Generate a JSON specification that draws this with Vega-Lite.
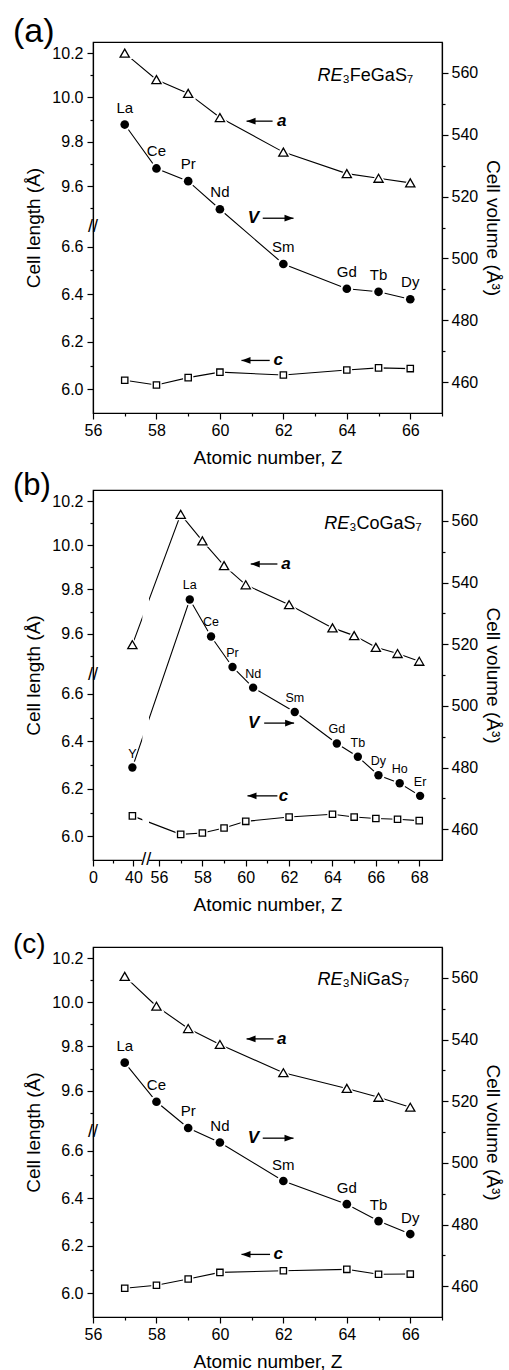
{
  "$schema": "https://vega.github.io/schema/vega-lite/v6.json",
  "padding": {"left": 12, "top": 14, "right": 2, "bottom": 0},
  "background": "white",
  "config": {
    "font": "Liberation Sans",
    "view": {"stroke": "black", "strokeWidth": 1.2},
    "axis": {"domainColor": "black", "domainWidth": 1.2, "tickColor": "black", "tickWidth": 1.2, "labelColor": "black", "titleColor": "black", "labelFont": "Liberation Sans", "titleFont": "Liberation Sans", "labelFontSize": 16, "titleFontSize": 19, "titleFontWeight": "normal", "grid": false, "labelOverlap": false, "labelFlush": false, "tickCount": 100},
    "text": {"font": "Liberation Sans", "color": "black"}
  },
  "datasets": {
    "lenA": [
      {"s": "a", "Z": 57, "v": 10.20}, {"s": "a", "Z": 58, "v": 10.08}, {"s": "a", "Z": 59, "v": 10.018}, {"s": "a", "Z": 60, "v": 9.909}, {"s": "a", "Z": 62, "v": 9.753}, {"s": "a", "Z": 64, "v": 9.656}, {"s": "a", "Z": 65, "v": 9.635}, {"s": "a", "Z": 66, "v": 9.614},
      {"s": "c", "Z": 57, "v": 6.038}, {"s": "c", "Z": 58, "v": 6.018}, {"s": "c", "Z": 59, "v": 6.049}, {"s": "c", "Z": 60, "v": 6.072}, {"s": "c", "Z": 62, "v": 6.060}, {"s": "c", "Z": 64, "v": 6.081}, {"s": "c", "Z": 65, "v": 6.090}, {"s": "c", "Z": 66, "v": 6.087}
    ],
    "volA": [
      {"el": "La", "Z": 57, "v": 543.3}, {"el": "Ce", "Z": 58, "v": 529.1}, {"el": "Pr", "Z": 59, "v": 525.0}, {"el": "Nd", "Z": 60, "v": 515.9}, {"el": "Sm", "Z": 62, "v": 498.2}, {"el": "Gd", "Z": 64, "v": 490.2}, {"el": "Tb", "Z": 65, "v": 489.2}, {"el": "Dy", "Z": 66, "v": 486.8}
    ],
    "annA": [
      {"lab": "a", "tip": 60.84, "tail": 61.66, "tx": 61.95, "v": 544.4, "dir": "L"},
      {"lab": "V", "tip": 62.32, "tail": 61.35, "tx": 61.06, "v": 513.0, "dir": "R"},
      {"lab": "c", "tip": 60.68, "tail": 61.57, "tx": 61.84, "v": 467.0, "dir": "L"}
    ],
    "fmA": [{"x0": 63.865, "v": 557.4, "re": "RE", "rest": "₃FeGaS₇"}],
    "brA": [{"bx": 56, "by": 8}],
    "lenB": [
      {"s": "a", "Z": 39, "v": 9.55}, {"s": "a", "Z": 57, "v": 10.14}, {"s": "a", "Z": 58, "v": 10.02}, {"s": "a", "Z": 59, "v": 9.908}, {"s": "a", "Z": 60, "v": 9.821}, {"s": "a", "Z": 62, "v": 9.731}, {"s": "a", "Z": 64, "v": 9.626}, {"s": "a", "Z": 65, "v": 9.591}, {"s": "a", "Z": 66, "v": 9.538}, {"s": "a", "Z": 67, "v": 9.51}, {"s": "a", "Z": 68, "v": 9.475},
      {"s": "c", "Z": 39, "v": 6.086}, {"s": "c", "Z": 57, "v": 6.008}, {"s": "c", "Z": 58, "v": 6.014}, {"s": "c", "Z": 59, "v": 6.035}, {"s": "c", "Z": 60, "v": 6.063}, {"s": "c", "Z": 62, "v": 6.081}, {"s": "c", "Z": 64, "v": 6.093}, {"s": "c", "Z": 65, "v": 6.081}, {"s": "c", "Z": 66, "v": 6.075}, {"s": "c", "Z": 67, "v": 6.072}, {"s": "c", "Z": 68, "v": 6.066}
    ],
    "volB": [
      {"el": "Y", "Z": 39, "v": 480.0}, {"el": "La", "Z": 57.42, "v": 534.5}, {"el": "Ce", "Z": 58.40, "v": 522.5}, {"el": "Pr", "Z": 59.39, "v": 512.6}, {"el": "Nd", "Z": 60.34, "v": 505.9}, {"el": "Sm", "Z": 62.26, "v": 498.0}, {"el": "Gd", "Z": 64.2, "v": 487.8}, {"el": "Tb", "Z": 65.17, "v": 483.5}, {"el": "Dy", "Z": 66.12, "v": 477.5}, {"el": "Ho", "Z": 67.1, "v": 474.9}, {"el": "Er", "Z": 68.04, "v": 470.8}
    ],
    "annB": [
      {"lab": "a", "tip": 60.23, "tail": 61.46, "tx": 61.85, "v": 546.0, "dir": "L"},
      {"lab": "V", "tip": 62.23, "tail": 60.85, "tx": 60.37, "v": 494.4, "dir": "R"},
      {"lab": "c", "tip": 60.08, "tail": 61.46, "tx": 61.74, "v": 470.8, "dir": "L"}
    ],
    "fmB": [{"x0": 64.77, "v": 557.4, "re": "RE", "rest": "₃CoGaS₇"}],
    "brB": [{"bx": 0, "by": 8}, {"bx": 48, "by": 5.9}],
    "gapB": [{"x1": 45.6, "x2": 49.75, "y1": 5.88, "y2": 10.2}],
    "lenC": [
      {"s": "a", "Z": 57, "v": 10.117}, {"s": "a", "Z": 58, "v": 9.982}, {"s": "a", "Z": 59, "v": 9.881}, {"s": "a", "Z": 60, "v": 9.809}, {"s": "a", "Z": 62, "v": 9.681}, {"s": "a", "Z": 64, "v": 9.610}, {"s": "a", "Z": 65, "v": 9.570}, {"s": "a", "Z": 66, "v": 9.525},
      {"s": "c", "Z": 57, "v": 6.021}, {"s": "c", "Z": 58, "v": 6.034}, {"s": "c", "Z": 59, "v": 6.060}, {"s": "c", "Z": 60, "v": 6.088}, {"s": "c", "Z": 62, "v": 6.095}, {"s": "c", "Z": 64, "v": 6.101}, {"s": "c", "Z": 65, "v": 6.080}, {"s": "c", "Z": 66, "v": 6.081}
    ],
    "volC": [
      {"el": "La", "Z": 57, "v": 532.5}, {"el": "Ce", "Z": 58, "v": 519.8}, {"el": "Pr", "Z": 59, "v": 511.3}, {"el": "Nd", "Z": 60, "v": 506.6}, {"el": "Sm", "Z": 62, "v": 494.1}, {"el": "Gd", "Z": 64, "v": 486.6}, {"el": "Tb", "Z": 65, "v": 481.1}, {"el": "Dy", "Z": 66, "v": 476.9}
    ],
    "annC": [
      {"lab": "a", "tip": 60.84, "tail": 61.69, "tx": 61.95, "v": 540.2, "dir": "L"},
      {"lab": "V", "tip": 62.32, "tail": 61.35, "tx": 61.06, "v": 508.0, "dir": "R"},
      {"lab": "c", "tip": 60.68, "tail": 61.58, "tx": 61.84, "v": 470.3, "dir": "L"}
    ],
    "fmC": [{"x0": 63.865, "v": 557.6, "re": "RE", "rest": "₃NiGaS₇"}],
    "brC": [{"bx": 56, "by": 8}]
  },
  "spacing": 15,
  "vconcat": [
    {
      "spacing": 1,
      "vconcat": [
        {
          "width": 349, "height": 371,
          "title": {"text": "(a)", "anchor": "start", "frame": "group", "dx": -80, "offset": -42, "fontSize": 34, "fontWeight": "normal", "baseline": "bottom", "font": "Liberation Sans", "color": "black"},
          "resolve": {"scale": {"y": "independent", "shape": "independent"}},
          "layer": [
            {"data": {"name": "lenA"}, "mark": {"type": "line", "color": "black", "strokeWidth": 1.1},
             "encoding": {
               "x": {"field": "Z", "type": "quantitative", "scale": {"domain": [56, 67], "nice": false, "zero": false}, "title": "Atomic number, Z",
                     "axis": {"values": [56, 57, 58, 59, 60, 61, 62, 63, 64, 65, 66, 67], "tickCount": 100, "format": "d", "labelExpr": "datum.value % 2 == 0 ? datum.label : ''", "tickSize": {"condition": {"test": "datum.value % 2 == 1", "value": 3}, "value": 6}, "labelPadding": 3, "titlePadding": 10}},
               "y": {"field": "v", "type": "quantitative", "scale": {"domain": [5.9, 6.68, 9.415, 10.25], "range": [371, 185.75, 185, 0], "nice": false, "zero": false},
                     "axis": {"orient": "left", "title": "Cell length (Å)", "values": [6.0, 6.1, 6.2, 6.3, 6.4, 6.5, 6.6, 9.5, 9.6, 9.7, 9.8, 9.9, 10.0, 10.1, 10.2], "tickCount": 100, "format": ".1f", "labelExpr": "round(datum.value*10) % 2 == 0 ? datum.label : ''", "tickSize": {"condition": {"test": "round(datum.value*10) % 2 == 1", "value": 3}, "value": 6}, "labelPadding": 4, "titlePadding": 8}},
               "detail": {"field": "s", "type": "nominal"}}},
            {"data": {"name": "volA"}, "mark": {"type": "line", "color": "black", "strokeWidth": 1.1},
             "encoding": {
               "x": {"field": "Z", "type": "quantitative", "scale": {"domain": [56, 67], "nice": false, "zero": false}, "title": "Atomic number, Z"},
               "y": {"field": "v", "type": "quantitative", "scale": {"domain": [450, 570], "nice": false, "zero": false},
                     "axis": {"orient": "right", "title": "Cell volume (Å³)", "values": [460, 470, 480, 490, 500, 510, 520, 530, 540, 550, 560], "tickCount": 100, "format": "d", "labelExpr": "datum.value % 20 == 0 ? datum.label : ''", "tickSize": {"condition": {"test": "datum.value % 20 != 0", "value": 3}, "value": 6}, "labelPadding": 3, "titlePadding": 5}}}},
            {"data": {"name": "lenA"}, "mark": {"type": "point", "filled": true, "fill": "white", "stroke": "white", "strokeWidth": 4, "opacity": 1},
             "encoding": {
               "x": {"field": "Z", "type": "quantitative", "scale": {"domain": [56, 67], "nice": false, "zero": false}, "title": "Atomic number, Z"},
               "y": {"field": "v", "type": "quantitative", "scale": {"domain": [5.9, 6.68, 9.415, 10.25], "range": [371, 185.75, 185, 0], "nice": false, "zero": false}, "axis": null},
               "shape": {"field": "s", "type": "nominal", "scale": {"domain": ["a", "c"], "range": ["triangle-up", "square"]}, "legend": null},
               "size": {"condition": {"test": "datum.s == 'a'", "value": 85}, "value": 40}}},
            {"data": {"name": "lenA"}, "mark": {"type": "point", "filled": true, "fill": "white", "stroke": "black", "strokeWidth": 1.3, "opacity": 1},
             "encoding": {
               "x": {"field": "Z", "type": "quantitative", "scale": {"domain": [56, 67], "nice": false, "zero": false}, "title": "Atomic number, Z"},
               "y": {"field": "v", "type": "quantitative", "scale": {"domain": [5.9, 6.68, 9.415, 10.25], "range": [371, 185.75, 185, 0], "nice": false, "zero": false}, "axis": null},
               "shape": {"field": "s", "type": "nominal", "scale": {"domain": ["a", "c"], "range": ["triangle-up", "square"]}, "legend": null},
               "size": {"condition": {"test": "datum.s == 'a'", "value": 85}, "value": 40}}},
            {"data": {"name": "volA"}, "mark": {"type": "point", "filled": true, "fill": "white", "stroke": "white", "strokeWidth": 4, "opacity": 1, "shape": "circle", "size": 75},
             "encoding": {
               "x": {"field": "Z", "type": "quantitative", "scale": {"domain": [56, 67], "nice": false, "zero": false}, "title": "Atomic number, Z"},
               "y": {"field": "v", "type": "quantitative", "scale": {"domain": [450, 570], "nice": false, "zero": false}, "axis": null}}},
            {"data": {"name": "volA"}, "mark": {"type": "point", "filled": true, "fill": "black", "strokeWidth": 0, "opacity": 1, "shape": "circle", "size": 75},
             "encoding": {
               "x": {"field": "Z", "type": "quantitative", "scale": {"domain": [56, 67], "nice": false, "zero": false}, "title": "Atomic number, Z"},
               "y": {"field": "v", "type": "quantitative", "scale": {"domain": [450, 570], "nice": false, "zero": false}, "axis": null}}},
            {"data": {"name": "volA"}, "mark": {"type": "text", "dy": -17, "fontSize": 15, "font": "Liberation Sans", "color": "black"},
             "encoding": {
               "x": {"field": "Z", "type": "quantitative", "scale": {"domain": [56, 67], "nice": false, "zero": false}, "title": "Atomic number, Z"},
               "y": {"field": "v", "type": "quantitative", "scale": {"domain": [450, 570], "nice": false, "zero": false}, "axis": null},
               "text": {"field": "el"}}},
            {"data": {"name": "annA"}, "mark": {"type": "rule", "color": "black", "strokeWidth": 1.3},
             "encoding": {
               "x": {"field": "tip", "type": "quantitative", "scale": {"domain": [56, 67], "nice": false, "zero": false}, "title": "Atomic number, Z"},
               "x2": {"field": "tail"},
               "y": {"field": "v", "type": "quantitative", "scale": {"domain": [450, 570], "nice": false, "zero": false}, "axis": null}}},
            {"data": {"name": "annA"}, "mark": {"type": "point", "filled": true, "color": "black", "strokeWidth": 0, "opacity": 1, "size": 81},
             "encoding": {
               "x": {"field": "tip", "type": "quantitative", "scale": {"domain": [56, 67], "nice": false, "zero": false}, "title": "Atomic number, Z"},
               "y": {"field": "v", "type": "quantitative", "scale": {"domain": [450, 570], "nice": false, "zero": false}, "axis": null},
               "shape": {"field": "dir", "type": "nominal", "scale": {"domain": ["L", "R"], "range": ["M0,0L2,-0.75L2,0.75Z", "M0,0L-2,-0.75L-2,0.75Z"]}, "legend": null}}},
            {"data": {"name": "annA"}, "mark": {"type": "text", "fontSize": 17, "fontStyle": "italic", "fontWeight": "bold", "font": "Liberation Sans", "color": "black", "baseline": "middle"},
             "encoding": {
               "x": {"field": "tx", "type": "quantitative", "scale": {"domain": [56, 67], "nice": false, "zero": false}, "title": "Atomic number, Z"},
               "y": {"field": "v", "type": "quantitative", "scale": {"domain": [450, 570], "nice": false, "zero": false}, "axis": null},
               "text": {"field": "lab"}}},
            {"data": {"name": "fmA"}, "mark": {"type": "text", "fontSize": 18, "fontStyle": "italic", "align": "right", "baseline": "alphabetic", "font": "Liberation Sans", "color": "black"},
             "encoding": {
               "x": {"field": "x0", "type": "quantitative", "scale": {"domain": [56, 67], "nice": false, "zero": false}, "title": "Atomic number, Z"},
               "y": {"field": "v", "type": "quantitative", "scale": {"domain": [450, 570], "nice": false, "zero": false}, "axis": null},
               "text": {"field": "re"}}},
            {"data": {"name": "fmA"}, "mark": {"type": "text", "fontSize": 18, "align": "left", "baseline": "alphabetic", "font": "Liberation Sans", "color": "black"},
             "encoding": {
               "x": {"field": "x0", "type": "quantitative", "scale": {"domain": [56, 67], "nice": false, "zero": false}, "title": "Atomic number, Z"},
               "y": {"field": "v", "type": "quantitative", "scale": {"domain": [450, 570], "nice": false, "zero": false}, "axis": null},
               "text": {"field": "rest"}}},
            {"data": {"name": "brA"}, "mark": {"type": "text", "text": "//", "fontSize": 18, "font": "Liberation Sans", "color": "black", "baseline": "middle"},
             "encoding": {
               "x": {"field": "bx", "type": "quantitative", "scale": {"domain": [56, 67], "nice": false, "zero": false}, "title": "Atomic number, Z"},
               "y": {"field": "by", "type": "quantitative", "scale": {"domain": [5.9, 6.68, 9.415, 10.25], "range": [371, 185.75, 185, 0], "nice": false, "zero": false}, "axis": null}}}
          ]
        },
        {
          "width": 349, "height": 370,
          "title": {"text": "(b)", "anchor": "start", "frame": "group", "dx": -80, "offset": -43, "fontSize": 31, "fontWeight": "normal", "baseline": "bottom", "font": "Liberation Sans", "color": "black"},
          "resolve": {"scale": {"y": "independent", "shape": "independent"}},
          "layer": [
            {"data": {"name": "lenB"}, "mark": {"type": "line", "color": "black", "strokeWidth": 1.1},
             "encoding": {
               "x": {"field": "Z", "type": "quantitative", "scale": {"domain": [0, 40, 56, 69.05], "range": [0, 40.4, 66, 349], "nice": false, "zero": false}, "title": "Atomic number, Z",
                     "axis": {"values": [0, 20, 40, 56, 57, 58, 59, 60, 61, 62, 63, 64, 65, 66, 67, 68], "tickCount": 100, "format": "d", "labelExpr": "(datum.value == 20 || datum.value % 2 == 1) ? '' : datum.label", "tickSize": {"condition": {"test": "datum.value == 20 || datum.value % 2 == 1", "value": 3}, "value": 6}, "labelPadding": 3, "titlePadding": 10}},
               "y": {"field": "v", "type": "quantitative", "scale": {"domain": [5.9, 6.68, 9.415, 10.25], "range": [370, 185, 184.5, 0], "nice": false, "zero": false},
                     "axis": {"orient": "left", "title": "Cell length (Å)", "values": [6.0, 6.1, 6.2, 6.3, 6.4, 6.5, 6.6, 9.5, 9.6, 9.7, 9.8, 9.9, 10.0, 10.1, 10.2], "tickCount": 100, "format": ".1f", "labelExpr": "round(datum.value*10) % 2 == 0 ? datum.label : ''", "tickSize": {"condition": {"test": "round(datum.value*10) % 2 == 1", "value": 3}, "value": 6}, "labelPadding": 4, "titlePadding": 8}},
               "detail": {"field": "s", "type": "nominal"}}},
            {"data": {"name": "volB"}, "mark": {"type": "line", "color": "black", "strokeWidth": 1.1},
             "encoding": {
               "x": {"field": "Z", "type": "quantitative", "scale": {"domain": [0, 40, 56, 69.05], "range": [0, 40.4, 66, 349], "nice": false, "zero": false}, "title": "Atomic number, Z"},
               "y": {"field": "v", "type": "quantitative", "scale": {"domain": [450, 570], "nice": false, "zero": false},
                     "axis": {"orient": "right", "title": "Cell volume (Å³)", "values": [460, 470, 480, 490, 500, 510, 520, 530, 540, 550, 560], "tickCount": 100, "format": "d", "labelExpr": "datum.value % 20 == 0 ? datum.label : ''", "tickSize": {"condition": {"test": "datum.value % 20 != 0", "value": 3}, "value": 6}, "labelPadding": 3, "titlePadding": 5}}}},
            {"data": {"name": "gapB"}, "mark": {"type": "rect", "color": "white", "opacity": 1},
             "encoding": {
               "x": {"field": "x1", "type": "quantitative", "scale": {"domain": [0, 40, 56, 69.05], "range": [0, 40.4, 66, 349], "nice": false, "zero": false}, "title": "Atomic number, Z"},
               "x2": {"field": "x2"},
               "y": {"field": "y1", "type": "quantitative", "scale": {"domain": [5.9, 6.68, 9.415, 10.25], "range": [370, 185, 184.5, 0], "nice": false, "zero": false}, "axis": null},
               "y2": {"field": "y2"}}},
            {"data": {"name": "lenB"}, "mark": {"type": "point", "filled": true, "fill": "white", "stroke": "white", "strokeWidth": 4, "opacity": 1},
             "encoding": {
               "x": {"field": "Z", "type": "quantitative", "scale": {"domain": [0, 40, 56, 69.05], "range": [0, 40.4, 66, 349], "nice": false, "zero": false}, "title": "Atomic number, Z"},
               "y": {"field": "v", "type": "quantitative", "scale": {"domain": [5.9, 6.68, 9.415, 10.25], "range": [370, 185, 184.5, 0], "nice": false, "zero": false}, "axis": null},
               "shape": {"field": "s", "type": "nominal", "scale": {"domain": ["a", "c"], "range": ["triangle-up", "square"]}, "legend": null},
               "size": {"condition": {"test": "datum.s == 'a'", "value": 85}, "value": 40}}},
            {"data": {"name": "lenB"}, "mark": {"type": "point", "filled": true, "fill": "white", "stroke": "black", "strokeWidth": 1.3, "opacity": 1},
             "encoding": {
               "x": {"field": "Z", "type": "quantitative", "scale": {"domain": [0, 40, 56, 69.05], "range": [0, 40.4, 66, 349], "nice": false, "zero": false}, "title": "Atomic number, Z"},
               "y": {"field": "v", "type": "quantitative", "scale": {"domain": [5.9, 6.68, 9.415, 10.25], "range": [370, 185, 184.5, 0], "nice": false, "zero": false}, "axis": null},
               "shape": {"field": "s", "type": "nominal", "scale": {"domain": ["a", "c"], "range": ["triangle-up", "square"]}, "legend": null},
               "size": {"condition": {"test": "datum.s == 'a'", "value": 85}, "value": 40}}},
            {"data": {"name": "volB"}, "mark": {"type": "point", "filled": true, "fill": "white", "stroke": "white", "strokeWidth": 4, "opacity": 1, "shape": "circle", "size": 70},
             "encoding": {
               "x": {"field": "Z", "type": "quantitative", "scale": {"domain": [0, 40, 56, 69.05], "range": [0, 40.4, 66, 349], "nice": false, "zero": false}, "title": "Atomic number, Z"},
               "y": {"field": "v", "type": "quantitative", "scale": {"domain": [450, 570], "nice": false, "zero": false}, "axis": null}}},
            {"data": {"name": "volB"}, "mark": {"type": "point", "filled": true, "fill": "black", "strokeWidth": 0, "opacity": 1, "shape": "circle", "size": 70},
             "encoding": {
               "x": {"field": "Z", "type": "quantitative", "scale": {"domain": [0, 40, 56, 69.05], "range": [0, 40.4, 66, 349], "nice": false, "zero": false}, "title": "Atomic number, Z"},
               "y": {"field": "v", "type": "quantitative", "scale": {"domain": [450, 570], "nice": false, "zero": false}, "axis": null}}},
            {"data": {"name": "volB"}, "mark": {"type": "text", "dy": -14, "fontSize": 12.5, "font": "Liberation Sans", "color": "black"},
             "encoding": {
               "x": {"field": "Z", "type": "quantitative", "scale": {"domain": [0, 40, 56, 69.05], "range": [0, 40.4, 66, 349], "nice": false, "zero": false}, "title": "Atomic number, Z"},
               "y": {"field": "v", "type": "quantitative", "scale": {"domain": [450, 570], "nice": false, "zero": false}, "axis": null},
               "text": {"field": "el"}}},
            {"data": {"name": "annB"}, "mark": {"type": "rule", "color": "black", "strokeWidth": 1.3},
             "encoding": {
               "x": {"field": "tip", "type": "quantitative", "scale": {"domain": [0, 40, 56, 69.05], "range": [0, 40.4, 66, 349], "nice": false, "zero": false}, "title": "Atomic number, Z"},
               "x2": {"field": "tail"},
               "y": {"field": "v", "type": "quantitative", "scale": {"domain": [450, 570], "nice": false, "zero": false}, "axis": null}}},
            {"data": {"name": "annB"}, "mark": {"type": "point", "filled": true, "color": "black", "strokeWidth": 0, "opacity": 1, "size": 81},
             "encoding": {
               "x": {"field": "tip", "type": "quantitative", "scale": {"domain": [0, 40, 56, 69.05], "range": [0, 40.4, 66, 349], "nice": false, "zero": false}, "title": "Atomic number, Z"},
               "y": {"field": "v", "type": "quantitative", "scale": {"domain": [450, 570], "nice": false, "zero": false}, "axis": null},
               "shape": {"field": "dir", "type": "nominal", "scale": {"domain": ["L", "R"], "range": ["M0,0L2,-0.75L2,0.75Z", "M0,0L-2,-0.75L-2,0.75Z"]}, "legend": null}}},
            {"data": {"name": "annB"}, "mark": {"type": "text", "fontSize": 17, "fontStyle": "italic", "fontWeight": "bold", "font": "Liberation Sans", "color": "black", "baseline": "middle"},
             "encoding": {
               "x": {"field": "tx", "type": "quantitative", "scale": {"domain": [0, 40, 56, 69.05], "range": [0, 40.4, 66, 349], "nice": false, "zero": false}, "title": "Atomic number, Z"},
               "y": {"field": "v", "type": "quantitative", "scale": {"domain": [450, 570], "nice": false, "zero": false}, "axis": null},
               "text": {"field": "lab"}}},
            {"data": {"name": "fmB"}, "mark": {"type": "text", "fontSize": 18, "fontStyle": "italic", "align": "right", "baseline": "alphabetic", "font": "Liberation Sans", "color": "black"},
             "encoding": {
               "x": {"field": "x0", "type": "quantitative", "scale": {"domain": [0, 40, 56, 69.05], "range": [0, 40.4, 66, 349], "nice": false, "zero": false}, "title": "Atomic number, Z"},
               "y": {"field": "v", "type": "quantitative", "scale": {"domain": [450, 570], "nice": false, "zero": false}, "axis": null},
               "text": {"field": "re"}}},
            {"data": {"name": "fmB"}, "mark": {"type": "text", "fontSize": 18, "align": "left", "baseline": "alphabetic", "font": "Liberation Sans", "color": "black"},
             "encoding": {
               "x": {"field": "x0", "type": "quantitative", "scale": {"domain": [0, 40, 56, 69.05], "range": [0, 40.4, 66, 349], "nice": false, "zero": false}, "title": "Atomic number, Z"},
               "y": {"field": "v", "type": "quantitative", "scale": {"domain": [450, 570], "nice": false, "zero": false}, "axis": null},
               "text": {"field": "rest"}}},
            {"data": {"name": "brB"}, "mark": {"type": "text", "text": "//", "fontSize": 18, "font": "Liberation Sans", "color": "black", "baseline": "middle"},
             "encoding": {
               "x": {"field": "bx", "type": "quantitative", "scale": {"domain": [0, 40, 56, 69.05], "range": [0, 40.4, 66, 349], "nice": false, "zero": false}, "title": "Atomic number, Z"},
               "y": {"field": "by", "type": "quantitative", "scale": {"domain": [5.9, 6.68, 9.415, 10.25], "range": [370, 185, 184.5, 0], "nice": false, "zero": false}, "axis": null}}}
          ]
        }
      ]
    },
    {
      "width": 349, "height": 370,
      "title": {"text": "(c)", "anchor": "start", "frame": "group", "dx": -80, "offset": -40, "fontSize": 28, "fontWeight": "normal", "baseline": "bottom", "font": "Liberation Sans", "color": "black"},
      "resolve": {"scale": {"y": "independent", "shape": "independent"}},
      "layer": [
        {"data": {"name": "lenC"}, "mark": {"type": "line", "color": "black", "strokeWidth": 1.1},
         "encoding": {
           "x": {"field": "Z", "type": "quantitative", "scale": {"domain": [56, 67], "nice": false, "zero": false}, "title": "Atomic number, Z",
                 "axis": {"values": [56, 57, 58, 59, 60, 61, 62, 63, 64, 65, 66, 67], "tickCount": 100, "format": "d", "labelExpr": "datum.value % 2 == 0 ? datum.label : ''", "tickSize": {"condition": {"test": "datum.value % 2 == 1", "value": 3}, "value": 6}, "labelPadding": 3, "titlePadding": 10}},
           "y": {"field": "v", "type": "quantitative", "scale": {"domain": [5.9, 6.68, 9.415, 10.25], "range": [370, 185, 184.5, 0], "nice": false, "zero": false},
                 "axis": {"orient": "left", "title": "Cell length (Å)", "values": [6.0, 6.1, 6.2, 6.3, 6.4, 6.5, 6.6, 9.5, 9.6, 9.7, 9.8, 9.9, 10.0, 10.1, 10.2], "tickCount": 100, "format": ".1f", "labelExpr": "round(datum.value*10) % 2 == 0 ? datum.label : ''", "tickSize": {"condition": {"test": "round(datum.value*10) % 2 == 1", "value": 3}, "value": 6}, "labelPadding": 4, "titlePadding": 8}},
           "detail": {"field": "s", "type": "nominal"}}},
        {"data": {"name": "volC"}, "mark": {"type": "line", "color": "black", "strokeWidth": 1.1},
         "encoding": {
           "x": {"field": "Z", "type": "quantitative", "scale": {"domain": [56, 67], "nice": false, "zero": false}, "title": "Atomic number, Z"},
           "y": {"field": "v", "type": "quantitative", "scale": {"domain": [450, 570], "nice": false, "zero": false},
                 "axis": {"orient": "right", "title": "Cell volume (Å³)", "values": [460, 470, 480, 490, 500, 510, 520, 530, 540, 550, 560], "tickCount": 100, "format": "d", "labelExpr": "datum.value % 20 == 0 ? datum.label : ''", "tickSize": {"condition": {"test": "datum.value % 20 != 0", "value": 3}, "value": 6}, "labelPadding": 3, "titlePadding": 5}}}},
        {"data": {"name": "lenC"}, "mark": {"type": "point", "filled": true, "fill": "white", "stroke": "white", "strokeWidth": 4, "opacity": 1},
         "encoding": {
           "x": {"field": "Z", "type": "quantitative", "scale": {"domain": [56, 67], "nice": false, "zero": false}, "title": "Atomic number, Z"},
           "y": {"field": "v", "type": "quantitative", "scale": {"domain": [5.9, 6.68, 9.415, 10.25], "range": [370, 185, 184.5, 0], "nice": false, "zero": false}, "axis": null},
           "shape": {"field": "s", "type": "nominal", "scale": {"domain": ["a", "c"], "range": ["triangle-up", "square"]}, "legend": null},
           "size": {"condition": {"test": "datum.s == 'a'", "value": 85}, "value": 40}}},
        {"data": {"name": "lenC"}, "mark": {"type": "point", "filled": true, "fill": "white", "stroke": "black", "strokeWidth": 1.3, "opacity": 1},
         "encoding": {
           "x": {"field": "Z", "type": "quantitative", "scale": {"domain": [56, 67], "nice": false, "zero": false}, "title": "Atomic number, Z"},
           "y": {"field": "v", "type": "quantitative", "scale": {"domain": [5.9, 6.68, 9.415, 10.25], "range": [370, 185, 184.5, 0], "nice": false, "zero": false}, "axis": null},
           "shape": {"field": "s", "type": "nominal", "scale": {"domain": ["a", "c"], "range": ["triangle-up", "square"]}, "legend": null},
           "size": {"condition": {"test": "datum.s == 'a'", "value": 85}, "value": 40}}},
        {"data": {"name": "volC"}, "mark": {"type": "point", "filled": true, "fill": "white", "stroke": "white", "strokeWidth": 4, "opacity": 1, "shape": "circle", "size": 75},
         "encoding": {
           "x": {"field": "Z", "type": "quantitative", "scale": {"domain": [56, 67], "nice": false, "zero": false}, "title": "Atomic number, Z"},
           "y": {"field": "v", "type": "quantitative", "scale": {"domain": [450, 570], "nice": false, "zero": false}, "axis": null}}},
        {"data": {"name": "volC"}, "mark": {"type": "point", "filled": true, "fill": "black", "strokeWidth": 0, "opacity": 1, "shape": "circle", "size": 75},
         "encoding": {
           "x": {"field": "Z", "type": "quantitative", "scale": {"domain": [56, 67], "nice": false, "zero": false}, "title": "Atomic number, Z"},
           "y": {"field": "v", "type": "quantitative", "scale": {"domain": [450, 570], "nice": false, "zero": false}, "axis": null}}},
        {"data": {"name": "volC"}, "mark": {"type": "text", "dy": -16.5, "fontSize": 15, "font": "Liberation Sans", "color": "black"},
         "encoding": {
           "x": {"field": "Z", "type": "quantitative", "scale": {"domain": [56, 67], "nice": false, "zero": false}, "title": "Atomic number, Z"},
           "y": {"field": "v", "type": "quantitative", "scale": {"domain": [450, 570], "nice": false, "zero": false}, "axis": null},
           "text": {"field": "el"}}},
        {"data": {"name": "annC"}, "mark": {"type": "rule", "color": "black", "strokeWidth": 1.3},
         "encoding": {
           "x": {"field": "tip", "type": "quantitative", "scale": {"domain": [56, 67], "nice": false, "zero": false}, "title": "Atomic number, Z"},
           "x2": {"field": "tail"},
           "y": {"field": "v", "type": "quantitative", "scale": {"domain": [450, 570], "nice": false, "zero": false}, "axis": null}}},
        {"data": {"name": "annC"}, "mark": {"type": "point", "filled": true, "color": "black", "strokeWidth": 0, "opacity": 1, "size": 81},
         "encoding": {
           "x": {"field": "tip", "type": "quantitative", "scale": {"domain": [56, 67], "nice": false, "zero": false}, "title": "Atomic number, Z"},
           "y": {"field": "v", "type": "quantitative", "scale": {"domain": [450, 570], "nice": false, "zero": false}, "axis": null},
           "shape": {"field": "dir", "type": "nominal", "scale": {"domain": ["L", "R"], "range": ["M0,0L2,-0.75L2,0.75Z", "M0,0L-2,-0.75L-2,0.75Z"]}, "legend": null}}},
        {"data": {"name": "annC"}, "mark": {"type": "text", "fontSize": 17, "fontStyle": "italic", "fontWeight": "bold", "font": "Liberation Sans", "color": "black", "baseline": "middle"},
         "encoding": {
           "x": {"field": "tx", "type": "quantitative", "scale": {"domain": [56, 67], "nice": false, "zero": false}, "title": "Atomic number, Z"},
           "y": {"field": "v", "type": "quantitative", "scale": {"domain": [450, 570], "nice": false, "zero": false}, "axis": null},
           "text": {"field": "lab"}}},
        {"data": {"name": "fmC"}, "mark": {"type": "text", "fontSize": 18, "fontStyle": "italic", "align": "right", "baseline": "alphabetic", "font": "Liberation Sans", "color": "black"},
         "encoding": {
           "x": {"field": "x0", "type": "quantitative", "scale": {"domain": [56, 67], "nice": false, "zero": false}, "title": "Atomic number, Z"},
           "y": {"field": "v", "type": "quantitative", "scale": {"domain": [450, 570], "nice": false, "zero": false}, "axis": null},
           "text": {"field": "re"}}},
        {"data": {"name": "fmC"}, "mark": {"type": "text", "fontSize": 18, "align": "left", "baseline": "alphabetic", "font": "Liberation Sans", "color": "black"},
         "encoding": {
           "x": {"field": "x0", "type": "quantitative", "scale": {"domain": [56, 67], "nice": false, "zero": false}, "title": "Atomic number, Z"},
           "y": {"field": "v", "type": "quantitative", "scale": {"domain": [450, 570], "nice": false, "zero": false}, "axis": null},
           "text": {"field": "rest"}}},
        {"data": {"name": "brC"}, "mark": {"type": "text", "text": "//", "fontSize": 18, "font": "Liberation Sans", "color": "black", "baseline": "middle"},
         "encoding": {
           "x": {"field": "bx", "type": "quantitative", "scale": {"domain": [56, 67], "nice": false, "zero": false}, "title": "Atomic number, Z"},
           "y": {"field": "by", "type": "quantitative", "scale": {"domain": [5.9, 6.68, 9.415, 10.25], "range": [370, 185, 184.5, 0], "nice": false, "zero": false}, "axis": null}}}
      ]
    }
  ]
}
